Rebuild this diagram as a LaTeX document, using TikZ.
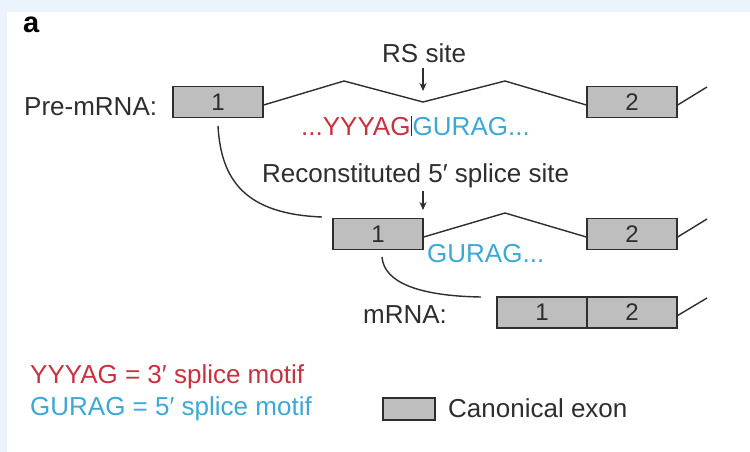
\documentclass[tikz,border=0pt]{standalone}
\usepackage{fontspec}
\setmainfont{Liberation Sans}
\usetikzlibrary{arrows.meta}
\definecolor{bgblue}{HTML}{EBF3FD}
\definecolor{motifred}{HTML}{C9313F}
\definecolor{motifblue}{HTML}{3DA8D6}
\definecolor{exonfill}{HTML}{BEBEBE}
\definecolor{ink}{HTML}{2E2E2E}
\begin{document}
\begin{tikzpicture}[x=1pt,y=-1pt,
  exon/.style={draw=ink, fill=exonfill, line width=1.3pt, minimum width=90pt, minimum height=31pt, inner sep=0pt, font=\fontsize{24}{24}\selectfont, text=ink},
  lbl/.style={inner sep=0pt, font=\fontsize{26}{26}\selectfont, text=ink, anchor=base west},
  strand/.style={draw=ink, line width=1.4pt},
  pointer/.style={draw=ink, line width=1.2pt, -{Stealth[length=8pt,width=7pt]}}]
\useasboundingbox (0,0) rectangle (750,452);
\fill[bgblue] (0,0) rectangle (750,452);
\fill[white] (7,12) rectangle (750,452);
% exons
\node[exon] (p1) at (218,102) {1};
\node[exon] (p2) at (632,102) {2};
\node[exon] (r1) at (378,234) {1};
\node[exon] (r2) at (632,234) {2};
\node[exon] (m1) at (542,312.5) {1};
\node[exon] (m2) at (632,312.5) {2};
% pre-mRNA intron
\coordinate (pk1) at (344,81);
\coordinate (vl) at (423,102);
\coordinate (pk2) at (505,81);
\coordinate (pt) at (707,87);
\draw[strand] ([yshift=-3pt]p1.east) -- (pk1) -- (vl) -- (pk2) -- ([yshift=-3pt]p2.west);
\draw[strand] ([yshift=-3pt]p2.east) -- (pt);
% second row
\coordinate (pk3) at (505,213);
\coordinate (rt) at (707,219);
\draw[strand] ([yshift=-3pt]r1.east) -- (pk3) -- ([yshift=-3pt]r2.west);
\draw[strand] ([yshift=-3pt]r2.east) -- (rt);
% mRNA tail
\coordinate (mt) at (707,298);
\draw[strand] ([yshift=-3pt]m2.east) -- (mt);
% splicing curves
\coordinate (c1s) at (218,126);
\coordinate (c1e) at (322,217);
\draw[strand] (c1s) .. controls (221,180) and (245,214) .. (c1e);
\coordinate (c2s) at (382,257);
\coordinate (c2e) at (481,297);
\draw[strand] (c2s) .. controls (384,283) and (420,296) .. (c2e);
% arrows
\coordinate (a1s) at (423,68);
\coordinate (a1e) at (423,91);
\draw[pointer] (a1s) -- (a1e);
\coordinate (a2s) at (423,191);
\coordinate (a2e) at (423,210);
\draw[pointer] (a2s) -- (a2e);
% texts
\node[font=\fontsize{29}{29}\selectfont\bfseries, text=black, anchor=base west, inner sep=0pt] (lab) at (23,33) {a};
\node[lbl] (pre) at (24,115) {Pre-mRNA:};
\node[lbl] (rs) at (382,63) {RS site};
\node[lbl] (motif) at (301,135) {\textcolor{motifred}{...YYYAG}\hspace{0.5pt}\textcolor{ink}{\rule[-1pt]{1.2pt}{20pt}}\hspace{0.5pt}\textcolor{motifblue}{GURAG...}};
\node[lbl] (recon) at (262,182) {Reconstituted 5′ splice site};
\node[lbl, text=motifblue] (gu2) at (427,262) {GURAG...};
\node[lbl] (mr) at (363,323) {mRNA:};
\node[lbl, text=motifred] (leg1) at (30,383) {YYYAG = 3′ splice motif};
\node[lbl, text=motifblue] (leg2) at (30,415) {GURAG = 5′ splice motif};
\node[exon, minimum width=52pt, minimum height=22pt] (legbox) at (409,409) {};
\node[lbl] (canon) at (448,417) {Canonical exon};
\end{tikzpicture}
\end{document}
